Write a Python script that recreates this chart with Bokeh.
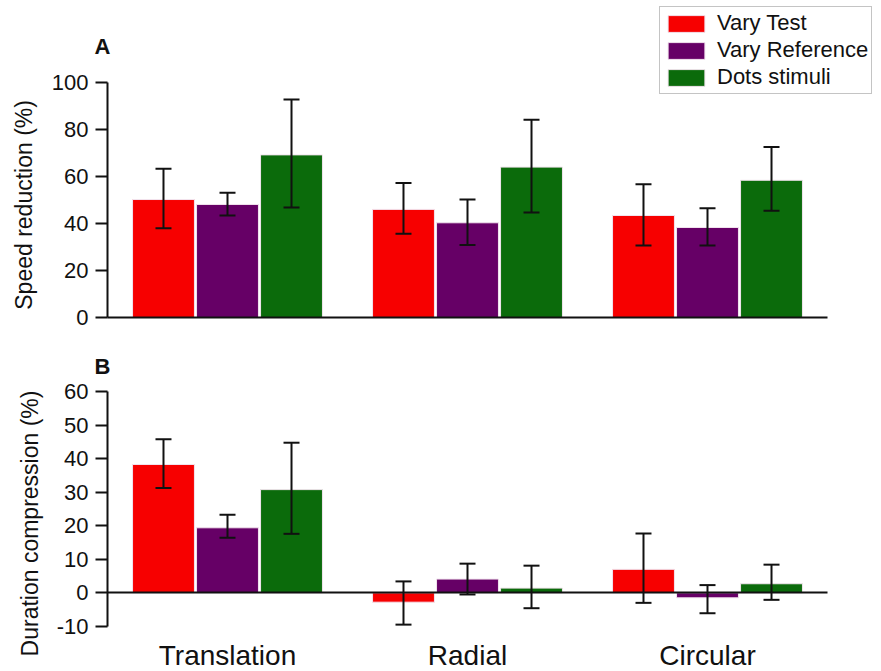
import math
from bokeh.plotting import figure
from bokeh.models import (ColumnDataSource, Whisker, TeeHead, Legend, LegendItem,
                          Label, LinearAxis, FixedTicker, Range1d)
from bokeh.embed import file_html
from bokeh.resources import INLINE

# ---- data ----
motions = ["Translation", "Radial", "Circular"]
conditions = ["Vary Test", "Vary Reference", "Dots stimuli"]
colors = ["#f70000", "#660066", "#0b6b0b"]

# Panel A: speed reduction (%), mean with error-bar limits
speed_mean = {
    "Vary Test":      [50.2, 46.0, 43.4],
    "Vary Reference": [48.1, 40.3, 38.3],
    "Dots stimuli":   [69.2, 64.0, 58.4],
}
speed_upper = {
    "Vary Test":      [63.3, 57.2, 56.7],
    "Vary Reference": [53.1, 50.2, 46.5],
    "Dots stimuli":   [92.8, 84.1, 72.6],
}
speed_lower = {
    "Vary Test":      [38.0, 35.6, 30.6],
    "Vary Reference": [43.4, 30.9, 30.6],
    "Dots stimuli":   [46.8, 44.7, 45.4],
}

# Panel B: duration compression (%)
dur_mean = {
    "Vary Test":      [38.3, -2.8, 7.0],
    "Vary Reference": [19.4, 4.1, -1.5],
    "Dots stimuli":   [30.8, 1.4, 2.7],
}
dur_upper = {
    "Vary Test":      [45.8, 3.4, 17.7],
    "Vary Reference": [23.3, 8.7, 2.3],
    "Dots stimuli":   [44.8, 8.1, 8.4],
}
dur_lower = {
    "Vary Test":      [31.3, -9.5, -3.0],
    "Vary Reference": [16.4, -0.5, -6.1],
    "Dots stimuli":   [17.6, -4.6, -2.1],
}

speed_ticks = [0, 20, 40, 60, 80, 100]
dur_ticks = [-10, 0, 10, 20, 30, 40, 50, 60]

FONT = "Liberation Sans"
INK = "#111111"
W, H = 881, 671

# Layout in pixels: both panels share one canvas, each with its own y scale.
LEFT = 107            # x position of the y axes
GROUP_PX = 240        # width of one motion group
A_ZERO, A_SCALE = 317, 2.35    # panel A: pixel row of 0 %, pixels per %
B_ZERO, B_SCALE = 592.3, 3.35  # panel B

offsets = [-0.2667, 0.0, 0.2667]
BAR_W = 0.258

p = figure(width=W, height=H, output_backend="svg", toolbar_location=None,
           x_axis_location=None, y_axis_location=None, min_border=0,
           x_range=Range1d(-LEFT / GROUP_PX, (W - LEFT) / GROUP_PX),
           y_range=Range1d(-(H - A_ZERO) / A_SCALE, A_ZERO / A_SCALE))
p.extra_y_ranges = {"dur": Range1d(-(H - B_ZERO) / B_SCALE, B_ZERO / B_SCALE)}
p.outline_line_color = None
p.grid.visible = False
p.background_fill_color = "white"
p.border_fill_color = "white"


def y_axis(range_name, ticks, bounds, overrides=None):
    ax = LinearAxis(y_range_name=range_name, fixed_location=0,
                    ticker=FixedTicker(ticks=ticks), bounds=bounds)
    ax.axis_line_width = 2
    ax.axis_line_color = INK
    ax.major_tick_line_width = 2
    ax.major_tick_line_color = INK
    ax.major_tick_out = 12
    ax.major_tick_in = 0
    ax.minor_tick_line_color = None
    ax.major_label_standoff = 7
    ax.major_label_text_font = FONT
    ax.major_label_text_font_size = "22px"
    ax.major_label_text_color = INK
    if overrides:
        ax.major_label_overrides = overrides
    p.add_layout(ax, "left")


def baseline(range_name):
    ax = LinearAxis(y_range_name=range_name, fixed_location=0,
                    ticker=FixedTicker(ticks=[]), bounds=(0, len(motions)))
    ax.axis_line_width = 2
    ax.axis_line_color = INK
    ax.major_tick_line_color = None
    ax.minor_tick_line_color = None
    p.add_layout(ax, "below")


y_axis("default", speed_ticks, (0, 100))
y_axis("dur", dur_ticks, (-10, 60), overrides={-10: "-10"})

# category names under panel B
cat_axis = LinearAxis(y_range_name="dur", fixed_location=-10,
                      ticker=FixedTicker(ticks=[k + 0.5 for k in range(len(motions))]))
cat_axis.major_label_overrides = {k + 0.5: m for k, m in enumerate(motions)}
cat_axis.axis_line_color = None
cat_axis.major_tick_line_color = None
cat_axis.minor_tick_line_color = None
cat_axis.major_tick_out = 0
cat_axis.major_tick_in = 0
cat_axis.major_label_standoff = 14
cat_axis.major_label_text_font = FONT
cat_axis.major_label_text_font_size = "28px"
cat_axis.major_label_text_color = INK
p.add_layout(cat_axis, "below")


def draw_bars(range_name, means, uppers, lowers):
    renderers = []
    for i, cond in enumerate(conditions):
        xs = [k + 0.5 + offsets[i] for k in range(len(motions))]
        src = ColumnDataSource(dict(x=xs, top=means[cond],
                                    upper=uppers[cond], lower=lowers[cond]))
        r = p.vbar(x="x", top="top", bottom=0, width=BAR_W, source=src,
                   y_range_name=range_name,
                   fill_color=colors[i], line_color="#f2e4ee", line_width=1)
        renderers.append(r)
        p.add_layout(Whisker(base="x", upper="upper", lower="lower", source=src,
                             y_range_name=range_name, level="annotation",
                             line_color=INK, line_width=2,
                             upper_head=TeeHead(size=16, line_color=INK, line_width=2),
                             lower_head=TeeHead(size=16, line_color=INK, line_width=2)))
    return renderers


rends = draw_bars("default", speed_mean, speed_upper, speed_lower)
draw_bars("dur", dur_mean, dur_upper, dur_lower)
baseline("default")
baseline("dur")

legend = Legend(items=[LegendItem(label=c, renderers=[r]) for c, r in zip(conditions, rends)],
                location=(659, H - 94), orientation="vertical",
                glyph_width=46, glyph_height=21, label_height=21, spacing=1,
                padding=3, margin=0, label_standoff=8,
                label_text_font=FONT, label_text_font_size="22px",
                label_text_color=INK,
                border_line_color="#8a8a8a", border_line_width=1.5,
                background_fill_alpha=1.0)
p.add_layout(legend)

# axis titles and panel letters
p.add_layout(Label(x=23, y=H - 204.4, x_units="screen", y_units="screen",
                   text="Speed reduction (%)", angle=math.pi / 2,
                   text_align="center", text_baseline="middle",
                   text_font=FONT, text_font_size="23px", text_color=INK))
p.add_layout(Label(x=29, y=H - 523, x_units="screen", y_units="screen",
                   text="Duration compression (%)", angle=math.pi / 2,
                   text_align="center", text_baseline="middle",
                   text_font=FONT, text_font_size="23px", text_color=INK))
for letter, base in (("A", 46), ("B", 366)):
    p.add_layout(Label(x=94, y=H - base, x_units="screen", y_units="screen",
                       text=letter, text_font=FONT, text_font_style="bold",
                       text_font_size="22px", text_color=INK,
                       text_align="left", text_baseline="alphabetic"))

open("out.html", "w").write(file_html(p, INLINE))
